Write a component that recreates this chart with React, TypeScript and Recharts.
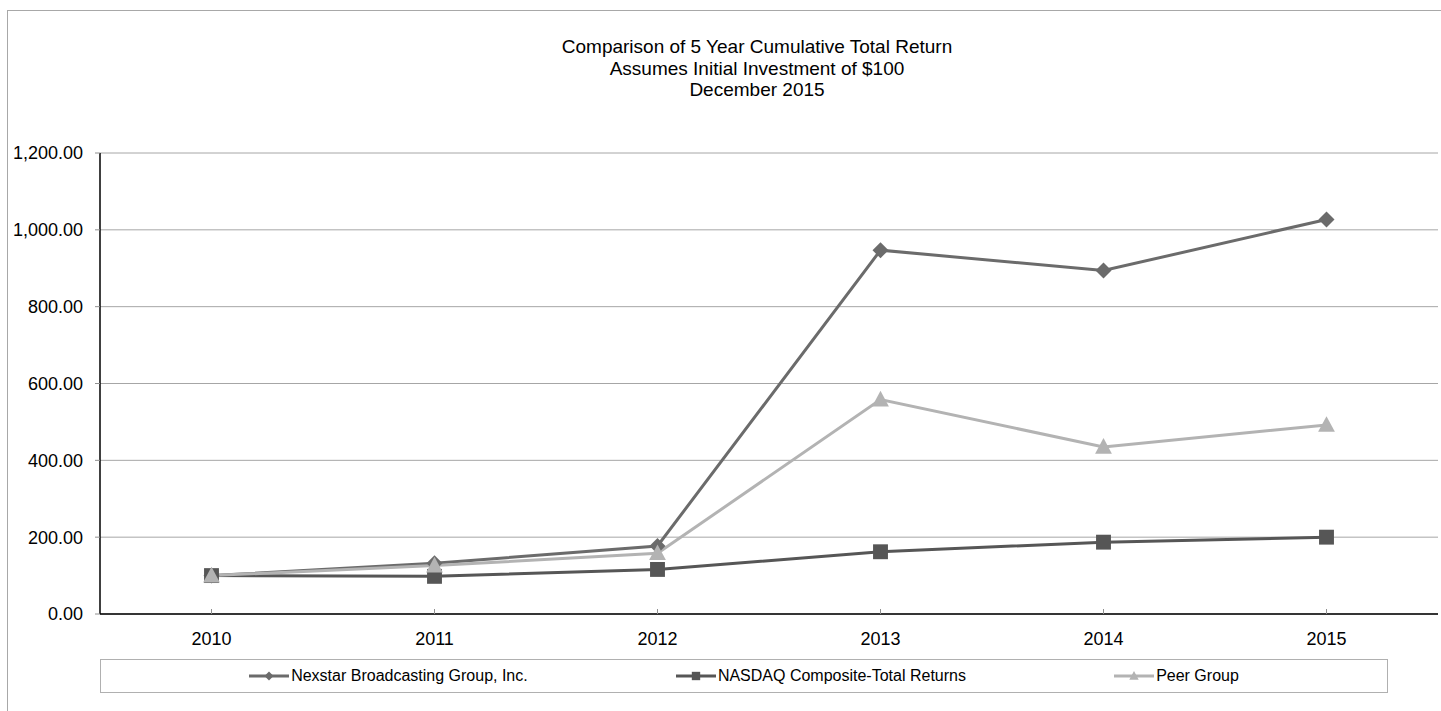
import React from 'react';
import { LineChart, Line, XAxis, YAxis, CartesianGrid, Legend } from 'recharts';

const YEARS = ['2010', '2011', '2012', '2013', '2014', '2015'];
const NEXSTAR = [100, 132, 177, 947, 894, 1027];
const NASDAQ = [100, 98, 116, 162, 187, 200];
const PEER = [100, 126, 158, 558, 435, 492];
const Y_TICKS = [0, 200, 400, 600, 800, 1000, 1200];

const SERIES = [
    { key: 'nexstar', name: 'Nexstar Broadcasting Group, Inc.', color: '#6b6b6b', shape: 'diamond' },
    { key: 'nasdaq', name: 'NASDAQ Composite-Total Returns', color: '#565656', shape: 'square' },
    { key: 'peer', name: 'Peer Group', color: '#b3b3b3', shape: 'triangle' },
];

const data = YEARS.map((year, i) => ({
    year,
    nexstar: NEXSTAR[i],
    nasdaq: NASDAQ[i],
    peer: PEER[i],
}));

const FONT = '"Liberation Sans", Arial, sans-serif';

const drawShape = (shape: string, cx: number, cy: number, r: number, color: string, key?: any) => {
    if (shape === 'diamond') {
        return (
            <polygon key={key} points={`${cx},${cy - r} ${cx + r},${cy} ${cx},${cy + r} ${cx - r},${cy}`} fill={color} />
        );
    }
    if (shape === 'square') {
        const s = r * 0.93;
        return <rect key={key} x={cx - s} y={cy - s} width={s * 2} height={s * 2} fill={color} />;
    }
    return (
        <polygon
            key={key}
            points={`${cx},${cy - r * 1.1} ${cx + r * 1.05},${cy + r * 0.85} ${cx - r * 1.05},${cy + r * 0.85}`}
            fill={color}
        />
    );
};

const makeDot = (shape: string, color: string) => (props: any) => {
    const { cx, cy, index } = props;
    if (cx == null || cy == null) return <g key={index} />;
    return drawShape(shape, cx, cy, 8, color, index);
};

const LegendBox = () => (
    <div
        style={{
            boxSizing: 'border-box',
            width: 1288,
            height: 34,
            border: '1px solid #b0b0b0',
            display: 'flex',
            alignItems: 'center',
            justifyContent: 'space-evenly',
            fontFamily: FONT,
            fontSize: 16,
            color: '#000',
        }}
    >
        {SERIES.map((s) => (
            <div key={s.key} style={{ display: 'flex', alignItems: 'center' }}>
                <svg width={40} height={14} style={{ marginRight: 2 }}>
                    <line x1={0} y1={7} x2={40} y2={7} stroke={s.color} strokeWidth={3} />
                    {drawShape(s.shape, 20, 7, 4.5, s.color)}
                </svg>
                <span>{s.name}</span>
            </div>
        ))}
    </div>
);

export default function App() {
    return (
        <div style={{ position: 'absolute', left: 0, top: 0, width: 1441, height: 711, background: '#fff', fontFamily: FONT, overflow: 'hidden' }}>
            <div
                style={{
                    position: 'absolute',
                    left: 7,
                    top: 10,
                    width: 1500,
                    height: 760,
                    borderLeft: '1px solid #a8a8a8',
                    borderTop: '1px solid #a8a8a8',
                }}
            />
            <div
                style={{
                    position: 'absolute',
                    left: 457,
                    top: 36,
                    width: 600,
                    textAlign: 'center',
                    fontSize: 19,
                    lineHeight: '21.5px',
                    color: '#000',
                }}
            >
                <div>Comparison of 5 Year Cumulative Total Return</div>
                <div>Assumes Initial Investment of $100</div>
                <div>December 2015</div>
            </div>
            <div style={{ position: 'absolute', left: 0, top: 0 }}>
                <LineChart width={1441} height={711} data={data} margin={{ top: 153, right: 3, left: 0, bottom: 51 }}>
                    <CartesianGrid vertical={false} stroke="#a6a6a6" />
                    <XAxis
                        dataKey="year"
                        height={46}
                        padding={{ left: 111.5, right: 111.5 }}
                        axisLine={{ stroke: '#000', strokeWidth: 1.5 }}
                        tickLine={{ stroke: '#909090' }}
                        tickSize={-5}
                        tickMargin={23}
                        tick={{ fill: '#000', fontSize: 18, fontFamily: FONT }}
                    />
                    <YAxis
                        width={100}
                        domain={[0, 1200]}
                        ticks={Y_TICKS}
                        interval={0}
                        tickFormatter={(v: number) => v.toLocaleString('en-US', { minimumFractionDigits: 2, maximumFractionDigits: 2 })}
                        axisLine={{ stroke: '#000', strokeWidth: 1.5 }}
                        tickLine={{ stroke: '#909090' }}
                        tickSize={5}
                        tickMargin={12}
                        tick={{ fill: '#000', fontSize: 18, fontFamily: FONT }}
                    />
                    <YAxis
                        yAxisId="right"
                        orientation="right"
                        width={0}
                        domain={[0, 1200]}
                        tick={false}
                        tickLine={false}
                        axisLine={{ stroke: '#000', strokeWidth: 1.5 }}
                    />
                    <Legend
                        layout="horizontal"
                        verticalAlign="middle"
                        align="center"
                        wrapperStyle={{ left: 100, top: 659, width: 1288, height: 34, margin: 0 }}
                        content={() => <LegendBox />}
                    />
                    {SERIES.map((s) => (
                        <Line
                            key={s.key}
                            type="linear"
                            dataKey={s.key}
                            name={s.name}
                            stroke={s.color}
                            strokeWidth={3}
                            dot={makeDot(s.shape, s.color)}
                            activeDot={false}
                            isAnimationActive={false}
                        />
                    ))}
                </LineChart>
            </div>
        </div>
    );
}
